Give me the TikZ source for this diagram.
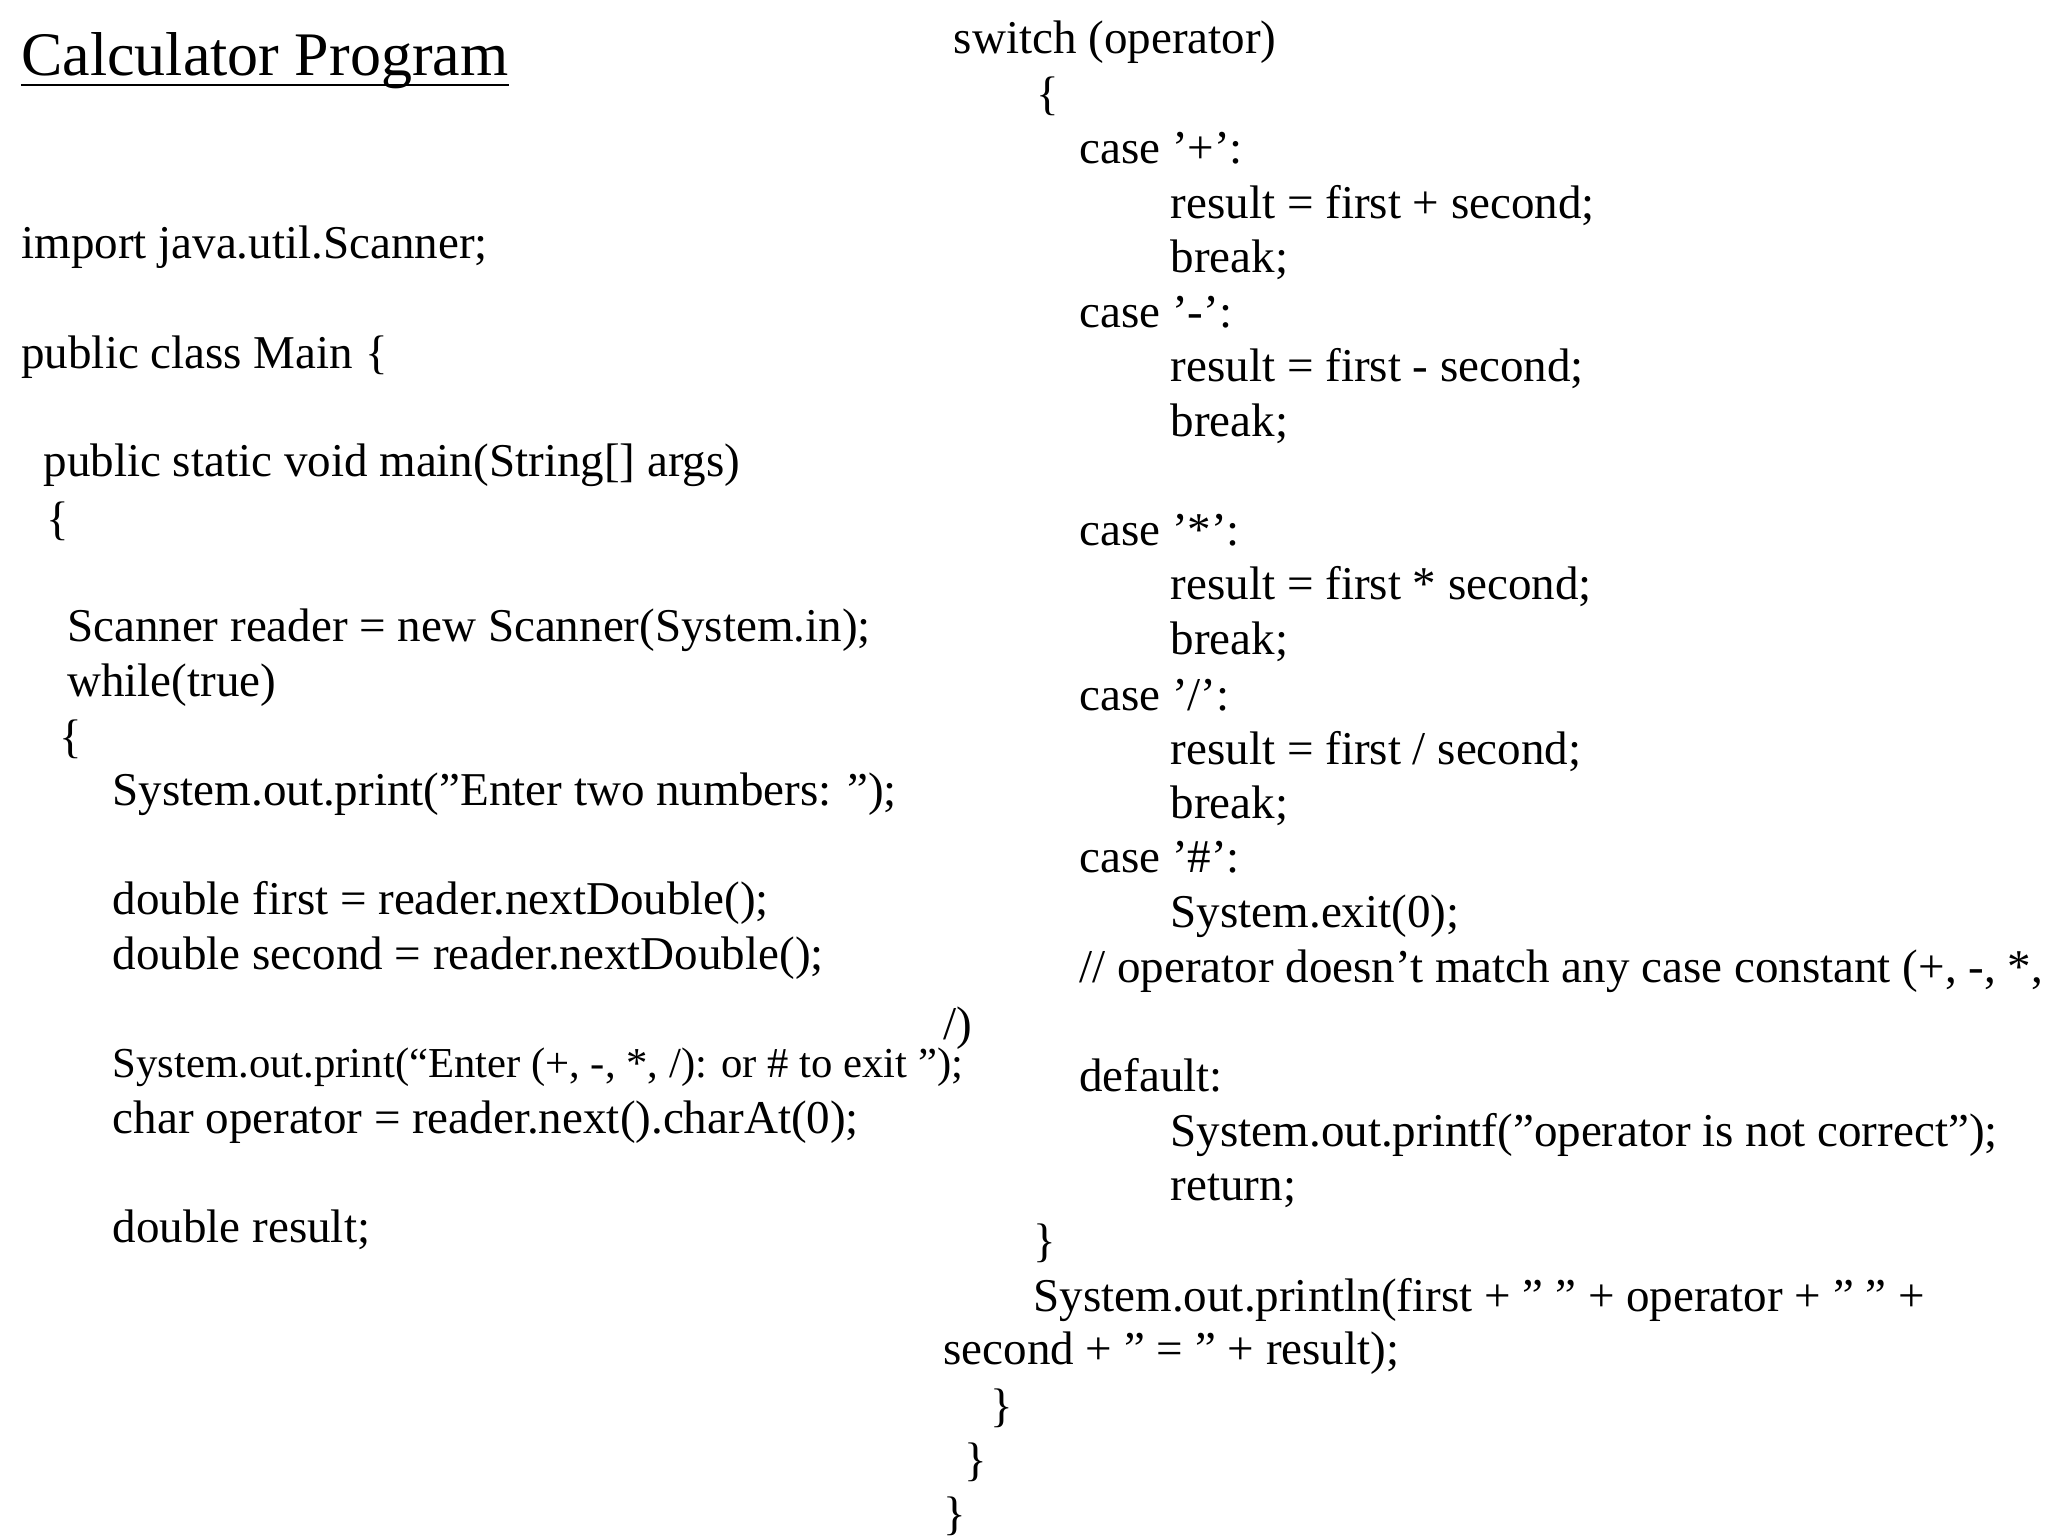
\documentclass[tikz,border=0pt]{standalone}
\usepackage{fontspec}
\setmainfont{Liberation Serif}
\begin{document}
\begin{tikzpicture}[x=0.02cm,y=-0.02cm,
  code/.style={anchor=base west,inner sep=0pt,font=\fontsize{20.5}{24}\selectfont},
  small/.style={anchor=base west,inner sep=0pt,font=\fontsize{18.6}{22}\selectfont}]
\useasboundingbox (0,0) rectangle (1568,1176);
\node[anchor=base west,inner sep=0pt,font=\fontsize{27}{30}\selectfont] (t) at (16,58) {Calculator Program};
\draw[line width=1.2pt] ([yshift=-4pt]t.base west) -- ([yshift=-4pt]t.base east);
\node[code] (l1) at (16,198) {import java.util.Scanner;};
\node[code] (l2) at (16,282) {public class Main \{};
\node[code] (l3) at (33,365) {public static void main(String[] args)};
\node[code] (l4) at (35,409) {\{};
\node[code] (l5) at (51,491) {Scanner reader = new Scanner(System.in);};
\node[code] (l6) at (51,533) {while(true)};
\node[code] (l7) at (45,576) {\{};
\node[code] (l8) at (86,617) {System.out.print("Enter two numbers: ");};
\node[code] (l9) at (86,700) {double first = reader.nextDouble();};
\node[code] (l10) at (86,742) {double second = reader.nextDouble();};
\node[small] (l11) at (86,825) {System.out.print(“Enter (+, -, *, /): or \# to exit ");};
\node[code] (l12) at (86,868) {char operator = reader.next().charAt(0);};
\node[code] (l13) at (86,951) {double result;};
\node[code] (r1) at (730,41) {switch (operator)};
\node[code] (r2) at (793,84) {\{};
\node[code] (r3) at (826,125) {case '+':};
\node[code] (r4) at (896,167) {result = first + second;};
\node[code] (r5) at (896,209) {break;};
\node[code] (r6) at (826,251) {case '-':};
\node[code] (r7) at (896,292) {result = first - second;};
\node[code] (r8) at (896,334) {break;};
\node[code] (r9) at (826,418) {case '*':};
\node[code] (r10) at (896,459) {result = first * second;};
\node[code] (r11) at (896,501) {break;};
\node[code] (r12) at (826,544) {case '/':};
\node[code] (r13) at (896,585) {result = first / second;};
\node[code] (r14) at (896,627) {break;};
\node[code] (r15) at (826,668) {case '\#':};
\node[code] (r16) at (896,710) {System.exit(0);};
\node[code] (r17) at (826,752) {// operator doesn't match any case constant (+, -, *,};
\node[code] (r18) at (722,796) {/)};
\node[code] (r19) at (826,836) {default:};
\node[code] (r20) at (896,878) {System.out.printf("operator is not correct");};
\node[code] (r21) at (896,919) {return;};
\node[code] (r22) at (791,962) {\}};
\node[code] (r23) at (791,1004) {System.out.println(first + " " + operator + " " +};
\node[code] (r24) at (722,1045) {second + " = " + result);};
\node[code] (r25) at (758,1088) {\}};
\node[code] (r26) at (738,1130) {\}};
\node[code] (r27) at (722,1171) {\}};
\end{tikzpicture}
\end{document}
